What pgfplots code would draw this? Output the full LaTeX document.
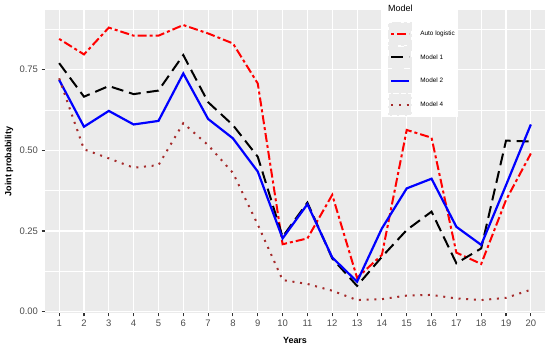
\documentclass[border=0pt]{standalone}
\usepackage{fontspec}
\setmainfont{Liberation Sans}
\usepackage{pgfplots}
\pgfplotsset{compat=1.18}
\definecolor{ggbg}{RGB}{235,235,235}
\definecolor{tickcol}{RGB}{51,51,51}
\definecolor{ticktext}{RGB}{77,77,77}
\definecolor{ggbrown}{RGB}{165,42,42}
\begin{document}
\begin{tikzpicture}
\useasboundingbox (0,0) rectangle (550bp,346bp);
\begin{axis}[
  at={(45bp,33bp)}, anchor=south west,
  scale only axis, width=500bp, height=303bp,
  xmin=0.43, xmax=20.57, ymin=-0.004, ymax=0.9346,
  clip=false,
  axis background/.style={fill=ggbg},
  axis line style={draw=none},
  xtick={1,...,20},
  ytick={0,0.25,0.5,0.75},
  minor ytick={0.125,0.375,0.625,0.875},
  xmajorgrids, ymajorgrids, yminorgrids,
  major grid style={white, line width=1.1bp},
  minor grid style={white, line width=0.55bp},
  tick pos=left, tick align=outside,
  major tick length=3.5bp, minor tick length=0pt,
  tick style={draw=tickcol, line width=1.1bp},
  /pgf/number format/assume math mode=true,
  ticklabel style={font=\fontsize{9.5}{11}\selectfont, text=ticktext},
  yticklabel style={/pgf/number format/.cd, fixed, fixed zerofill, precision=2},
  xlabel={Years}, ylabel={Joint probability},
  xlabel style={font=\bfseries\fontsize{9}{10}\selectfont, at={(axis description cs:0.5,-0.1)}, anchor=base},
  ylabel style={font=\bfseries\fontsize{9}{10}\selectfont, at={(axis description cs:-0.072,0.5)}, anchor=center},
  legend style={at={(axis description cs:0.686,0.9604)}, anchor=north west,
    draw=none, fill=none, inner sep=0pt, row sep=0pt, column sep=8bp,
    font=\fontsize{6.4}{7.5}\selectfont,
    nodes={inner sep=0pt, font=\fontsize{6.4}{7.5}\selectfont}},
  legend cell align=left,
  legend image code/.code={\fill[ggbg] (0bp,-10.75bp) rectangle (22bp,10.75bp); \draw[#1] (2bp,0bp) -- (20bp,0bp);},
]
\fill[white] (axis description cs:0.674,1.033) rectangle (axis description cs:0.826,0.6469);
\node[anchor=base west, inner sep=0pt, font=\fontsize{9}{10}\selectfont] at (axis description cs:0.686,0.9944) {Model};
\addplot[red, line width=2bp, dash pattern=on 3bp off 3bp on 9bp off 3bp] coordinates {
(1,0.845)(2,0.797)(3,0.880)(4,0.855)(5,0.855)(6,0.888)(7,0.862)(8,0.831)(9,0.707)(10,0.209)
(11,0.227)(12,0.362)(13,0.105)(14,0.176)(15,0.563)(16,0.539)(17,0.183)(18,0.148)(19,0.346)(20,0.490)};
\addlegendentry{Auto logistic}
\addplot[black, line width=2bp, dash pattern=on 12bp off 6bp] coordinates {
(1,0.770)(2,0.666)(3,0.699)(4,0.674)(5,0.685)(6,0.795)(7,0.649)(8,0.578)(9,0.480)(10,0.232)
(11,0.338)(12,0.165)(13,0.080)(14,0.170)(15,0.253)(16,0.310)(17,0.150)(18,0.196)(19,0.530)(20,0.527)};
\addlegendentry{Model 1}
\addplot[blue, line width=2.2bp] coordinates {
(1,0.718)(2,0.573)(3,0.622)(4,0.580)(5,0.591)(6,0.738)(7,0.597)(8,0.537)(9,0.434)(10,0.227)
(11,0.333)(12,0.168)(13,0.093)(14,0.258)(15,0.382)(16,0.412)(17,0.263)(18,0.207)(19,0.392)(20,0.580)};
\addlegendentry{Model 2}
\addplot[ggbrown, line width=2bp, dash pattern=on 2bp off 5.7bp] coordinates {
(1,0.723)(2,0.503)(3,0.475)(4,0.446)(5,0.454)(6,0.584)(7,0.516)(8,0.430)(9,0.270)(10,0.098)
(11,0.086)(12,0.065)(13,0.036)(14,0.039)(15,0.050)(16,0.052)(17,0.041)(18,0.036)(19,0.043)(20,0.068)};
\addlegendentry{Model 4}
\end{axis}
\end{tikzpicture}
\end{document}
